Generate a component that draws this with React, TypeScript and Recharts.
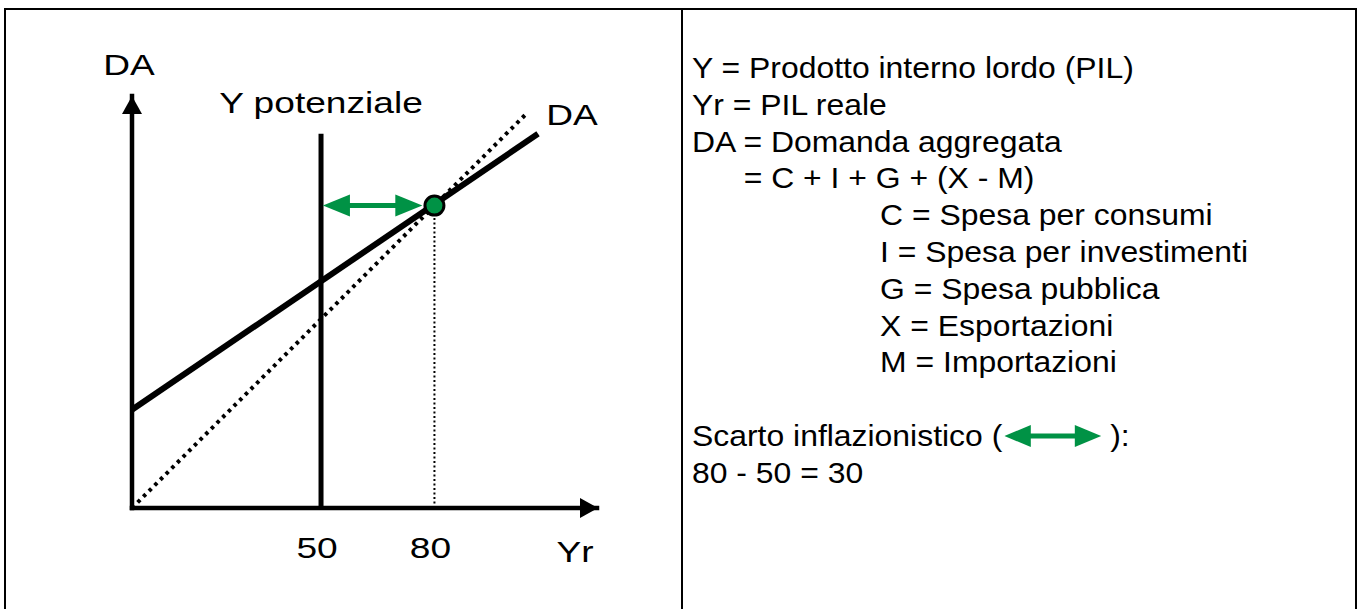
import React from 'react';
import { ComposedChart, Line, XAxis, YAxis, ReferenceLine, ReferenceDot } from 'recharts';

// domain of the diagram (same scale on both axes, bisector at 45°)
const YR_MAX = 123;
const DA_MAX = 109;
const YR_TICKS = [50, 80];

const Y_POTENZIALE = 50;
const Y_POT_TOP = 99;
const EQUILIBRIO = { yr: 80, da: 80 };
const DA_CURVE = [
    { yr: 0, da: 26 },
    { yr: 107.4, da: 99 },
];
const BISETTRICE = [
    { yr: 0, da: 0 },
    { yr: 104, da: 104 },
];
const GAP_FROM = 50.5;
const GAP_TO = 76.8;

const DEFINIZIONI = ['Y = Prodotto interno lordo (PIL)', 'Yr = PIL reale', 'DA = Domanda aggregata'];
const SOMMA = '= C + I + G + (X - M)';
const COMPONENTI = [
    'C = Spesa per consumi',
    'I = Spesa per investimenti',
    'G = Spesa pubblica',
    'X = Esportazioni',
    'M = Importazioni',
];
const SCARTO = 'Scarto inflazionistico (';
const CALCOLO = '80 - 50 = 30';

const GREEN = '#009245';
const FONT = '"Liberation Sans", Arial, sans-serif';
const STRETCH = 1.28;

const label = (x: number, y: number, text: string) => (
    <text
        key={text + x}
        transform={`translate(${x},${y}) scale(${STRETCH},1)`}
        textAnchor="middle"
        fontSize={29}
        fontFamily={FONT}
        fill="#000"
    >
        {text}
    </text>
);

const YrTick = (props: any) => {
    const { x, payload } = props;
    return label(x - 4, 558, String(payload.value));
};

const DoubleArrow = (props: any) => {
    const { x1, y1, x2 } = props;
    const head = 27;
    const half = 11;
    return (
        <g>
            <line x1={x1 + head - 2} y1={y1} x2={x2 - head + 2} y2={y1} stroke={GREEN} strokeWidth={5} />
            <polygon points={`${x1},${y1} ${x1 + head},${y1 - half} ${x1 + head},${y1 + half}`} fill={GREEN} />
            <polygon points={`${x2},${y1} ${x2 - head},${y1 - half} ${x2 - head},${y1 + half}`} fill={GREEN} />
        </g>
    );
};

const ArrowUp = (props: any) => {
    const { cx, cy } = props;
    return <polygon points={`${cx},${cy} ${cx - 10},${cy + 18} ${cx + 10},${cy + 18}`} fill="#000" />;
};

const ArrowRight = (props: any) => {
    const { cx, cy } = props;
    return <polygon points={`${cx + 1},${cy} ${cx - 17},${cy - 10} ${cx - 17},${cy + 10}`} fill="#000" />;
};

function Diagramma() {
    return (
        <div style={{ position: 'absolute', left: 0, top: 0, width: 680, height: 609 }}>
            <ComposedChart width={680} height={609} margin={{ top: 96, right: 83, bottom: 100, left: 131 }}>
                <XAxis
                    type="number"
                    dataKey="yr"
                    domain={[0, YR_MAX]}
                    ticks={YR_TICKS}
                    height={1}
                    tickSize={0}
                    tickMargin={0}
                    tickLine={false}
                    axisLine={false}
                    tick={<YrTick />}
                    allowDataOverflow
                />
                <YAxis
                    type="number"
                    domain={[0, DA_MAX]}
                    width={1}
                    tick={false}
                    tickLine={false}
                    axisLine={false}
                    allowDataOverflow
                />
                {/* axes drawn as segments so they meet cleanly at the origin */}
                <ReferenceLine
                    segment={[{ x: 0, y: 0 }, { x: YR_MAX, y: 0 }]}
                    stroke="#000"
                    strokeWidth={4.5}
                    strokeLinecap="square"
                />
                <ReferenceLine
                    segment={[{ x: 0, y: 0 }, { x: 0, y: DA_MAX }]}
                    stroke="#000"
                    strokeWidth={4.5}
                    strokeLinecap="square"
                />
                <Line
                    data={BISETTRICE}
                    dataKey="da"
                    type="linear"
                    stroke="#000"
                    strokeWidth={4}
                    strokeDasharray="3.5 4.5"
                    dot={false}
                    activeDot={false}
                    isAnimationActive={false}
                />
                <Line
                    data={DA_CURVE}
                    dataKey="da"
                    type="linear"
                    stroke="#000"
                    strokeWidth={6}
                    dot={false}
                    activeDot={false}
                    isAnimationActive={false}
                />
                <ReferenceLine
                    segment={[{ x: Y_POTENZIALE, y: 0 }, { x: Y_POTENZIALE, y: Y_POT_TOP }]}
                    stroke="#000"
                    strokeWidth={5}
                />
                <ReferenceLine
                    segment={[{ x: EQUILIBRIO.yr, y: 0 }, { x: EQUILIBRIO.yr, y: EQUILIBRIO.da }]}
                    stroke="#000"
                    strokeWidth={2}
                    strokeDasharray="2 2.5"
                />
                <ReferenceLine
                    segment={[{ x: GAP_FROM, y: EQUILIBRIO.da }, { x: GAP_TO, y: EQUILIBRIO.da }]}
                    shape={<DoubleArrow />}
                />
                <ReferenceDot x={0} y={DA_MAX} r={1} shape={<ArrowUp />} />
                <ReferenceDot x={YR_MAX} y={0} r={1} shape={<ArrowRight />} />
                <ReferenceDot
                    x={EQUILIBRIO.yr}
                    y={EQUILIBRIO.da}
                    r={9.5}
                    fill={GREEN}
                    stroke="#000"
                    strokeWidth={3}
                />
            </ComposedChart>
            <svg width={680} height={609} style={{ position: 'absolute', left: 0, top: 0, pointerEvents: 'none' }}>
                {label(129, 75, 'DA')}
                {label(321, 113, 'Y potenziale')}
                {label(572, 125, 'DA')}
                {label(575, 562, 'Yr')}
            </svg>
        </div>
    );
}

function Legenda() {
    const line = { whiteSpace: 'pre' as const };
    return (
        <div
            style={{
                position: 'absolute',
                left: 692,
                top: 50,
                fontFamily: FONT,
                fontSize: 29,
                lineHeight: '36.8px',
                color: '#000',
                transform: 'scaleX(1.1)',
                transformOrigin: 'left top',
            }}
        >
            {DEFINIZIONI.map(t => (
                <div key={t} style={line}>{t}</div>
            ))}
            <div style={{ ...line, paddingLeft: 47 }}>{SOMMA}</div>
            {COMPONENTI.map(t => (
                <div key={t} style={{ ...line, paddingLeft: 171 }}>{t}</div>
            ))}
            <div style={line}>&nbsp;</div>
            <div style={line}>
                {SCARTO}
                <svg width={88} height={24} style={{ verticalAlign: '-2px', marginLeft: 2 }}>
                    <line x1={22} y1={12} x2={66} y2={12} stroke={GREEN} strokeWidth={5} />
                    <polygon points="0,12 24,1 24,23" fill={GREEN} />
                    <polygon points="88,12 64,1 64,23" fill={GREEN} />
                </svg>
                {' ):'}
            </div>
            <div style={line}>{CALCOLO}</div>
        </div>
    );
}

export default function App() {
    return (
        <div style={{ position: 'absolute', left: 0, top: 0, width: 1362, height: 609, overflow: 'hidden', background: '#fff' }}>
            <div
                style={{
                    position: 'absolute',
                    left: 4,
                    top: 8,
                    width: 1349,
                    height: 640,
                    border: '2px solid #000',
                }}
            />
            <div style={{ position: 'absolute', left: 681, top: 8, width: 2, height: 610, background: '#000' }} />
            <Diagramma />
            <Legenda />
        </div>
    );
}
